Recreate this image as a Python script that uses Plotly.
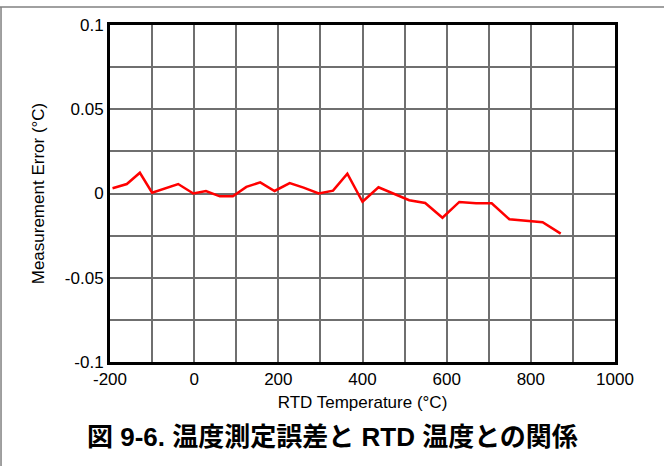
import plotly.graph_objects as go

temperature_c = [-194, -160, -129, -100, -38, -2, 28, 61, 92, 124, 157, 191, 227, 260, 296, 330, 364,
                 400, 438, 511, 549, 590, 630, 670, 707, 749, 828, 871]
error_c = [0.0031, 0.0056, 0.0123, 0.0005, 0.0056, 0.0, 0.0015, -0.0017, -0.0017, 0.0039, 0.0066, 0.0015,
           0.0062, 0.0035, 0.0, 0.0017, 0.0118, -0.0049, 0.0037, -0.0040, -0.0056, -0.0144, -0.0050,
           -0.0058, -0.0058, -0.0153, -0.0171, -0.0238]

x_grid = list(range(-200, 1001, 100))
x_labels = [str(v) if v % 200 == 0 else "" for v in x_grid]
y_grid = [-0.1, -0.075, -0.05, -0.025, 0.0, 0.025, 0.05, 0.075, 0.1]
y_labels = ["-0.1", "", "-0.05", "", "0", "", "0.05", "", "0.1"]

font_latin = "Liberation Sans, Arial, sans-serif"

fig = go.Figure()
fig.add_trace(go.Scatter(x=temperature_c, y=error_c, mode="lines",
                         line=dict(color="#ff0000", width=2.5), showlegend=False))

fig.update_layout(
    width=664, height=466,
    margin=dict(l=110, r=49, t=25, b=104),
    paper_bgcolor="white", plot_bgcolor="white",
    font=dict(family=font_latin, color="black"),
    xaxis=dict(range=[-200, 1000], tickvals=x_grid, ticktext=x_labels,
               showgrid=True, gridcolor="#6f6f6f", gridwidth=1.5,
               showline=True, linecolor="black", linewidth=3, mirror=True,
               ticks="", zeroline=False, tickfont=dict(size=17, color="black"),
               title=dict(text="RTD Temperature (°C)", font=dict(size=17, color="black"), standoff=8)),
    yaxis=dict(range=[-0.1, 0.1], tickvals=y_grid, ticktext=y_labels,
               showgrid=True, gridcolor="#6f6f6f", gridwidth=1.5,
               showline=True, linecolor="black", linewidth=3, mirror=True,
               ticks="", zeroline=False, tickfont=dict(size=17, color="black"),
               title=dict(text="Measurement Error (°C)", font=dict(size=17, color="black"), standoff=16)),
    shapes=[
        dict(type="line", xref="paper", yref="paper", x0=-0.22, x1=1.1, y0=1.0534, y1=1.0534,
             line=dict(color="#808080", width=1.5)),
        dict(type="line", xref="paper", yref="paper", x0=-0.2158, x1=-0.2158, y0=1.0534, y1=-0.32,
             line=dict(color="#808080", width=1.5)),
    ],
    annotations=[
        dict(text="<b>図 9-6. 温度測定誤差と RTD 温度との関係</b>", xref="paper", yref="paper",
             x=(332 - 110) / 505, y=(362 - 437) / 337, xanchor="center", yanchor="middle",
             showarrow=False,
             font=dict(size=26, color="black", family="Liberation Sans, Noto Sans CJK JP, sans-serif")),
    ],
)

fig.write_html("out.html", config={"displayModeBar": False},
               post_script="document.body.style.margin='0';document.body.style.padding='0';")
